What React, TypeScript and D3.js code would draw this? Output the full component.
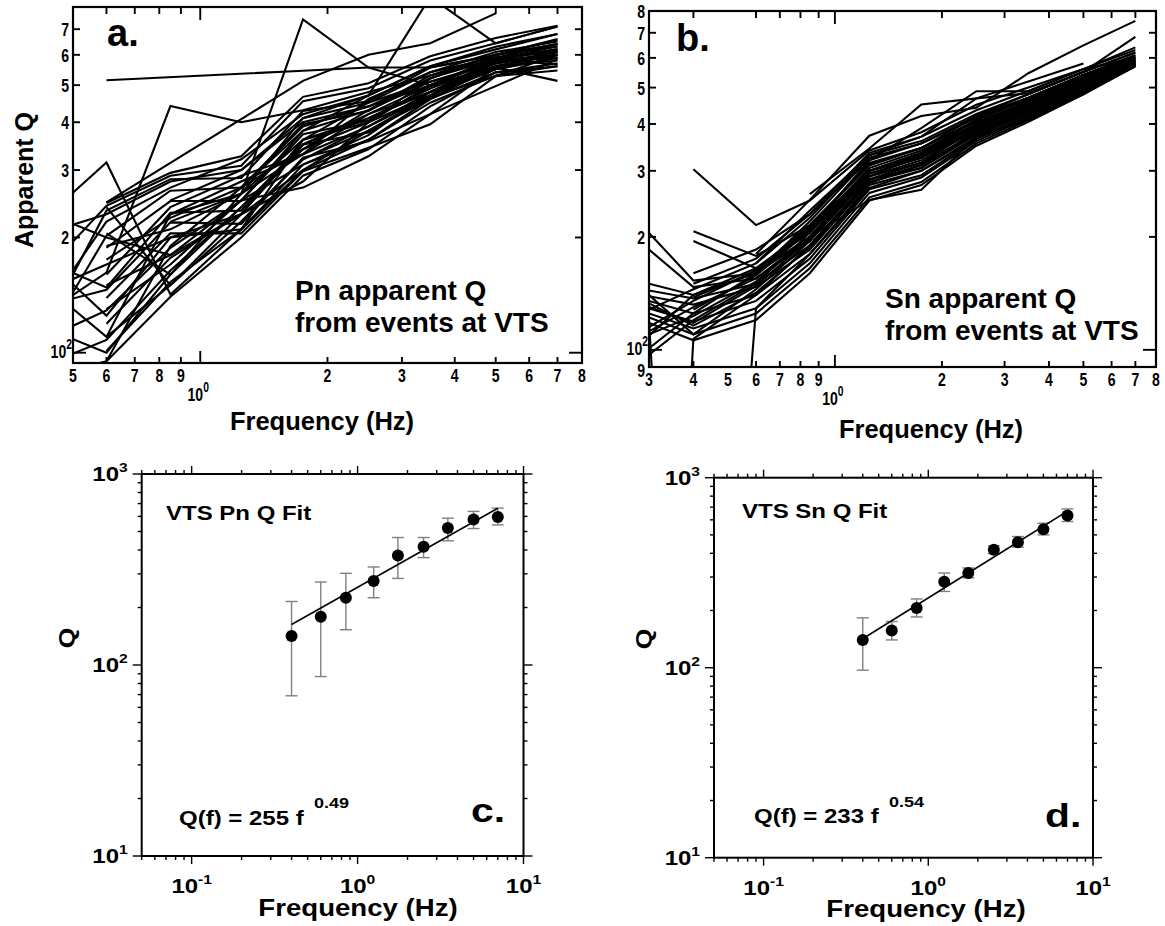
import React from 'react';
import * as d3 from 'd3';

// ---- data ----
// apparent Q curves (one row per event), frequencies shared per panel
const freqPn = [0.4, 0.6, 0.85, 1.25, 1.75, 2.5, 3.5, 5, 7];
const pnLines: (number | null)[][] = [
  [null, 515, null, null, 545, 556, 556, 600, 640],
  [null, null, 220, 260, 742, 556, 500, 580, 620],
  [null, null, null, 270, 380, 470, 850, 643, 711],
  [null, 247, null, null, 513, 600, 643, 770, null],
  [210, 314, 142, 210, 300, 380, 470, 560, 600],
  [120, 162, 441, 400, 430, 480, 530, 584, 566],
  [null, 246, 295, 326, 466, 506, 595, 664, 715],
  [150, 242, 290, 308, 454, 491, 580, 643, 711],
  [100, 235, 284, 286, 428, 454, 556, 598, 657],
  [95, 202, 265, 270, 395, 428, 522, 584, 632],
  [null, 188, 249, 249, 372, 404, 497, 556, 612],
  [180, 148, 232, 235, 350, 376, 465, 528, 600],
  [130, 146, 219, 217, 323, 357, 420, 497, 584],
  [null, 139, 205, 205, 298, 343, 395, 528, 546],
  [105, 129, 188, 250, 270, 326, 420, 556, 513],
  [null, 119, 177, 230, 350, 420, 480, 580, 600],
  [90, 108, 164, 240, 340, 400, 500, 590, 620],
  [null, 101, 153, 210, 310, 360, 460, 560, 580],
  [85, 95, 140, 200, 290, 340, 440, 540, 560],
  [null, 190, 210, 260, 360, 410, 480, 570, 610],
  [null, null, 230, 280, 330, 390, 470, 550, 590],
  [null, null, 250, 300, 400, 440, 520, 600, 630],
  [140, 170, 200, 230, 360, 450, 540, 610, 650],
  [null, 130, 170, 250, 380, 430, 510, 575, 590],
  [115, 220, 270, 320, 420, 470, 560, 620, 680],
  [null, 160, 240, 290, 330, 460, 540, 590, 610],
  [null, 110, 150, 220, 320, 380, 460, 540, 570],
  [200, 230, 280, 300, 410, 450, 510, 570, 600],
  [null, 150, 180, 230, 300, 360, 450, 530, 560],
  [null, null, null, 220, 320, 390, 480, 560, 600],
  [120, 100, 160, 240, 350, 410, 490, 570, 610],
  [null, 175, 225, 270, 390, 440, 500, 580, 620],
  [160, 110, 230, 260, 330, 420, 500, 560, 600],
  [null, 240, 150, 230, 280, 400, 470, 590, 640],
  [190, 125, 200, 210, 360, 400, 520, 600, 660],
  [null, 95, 190, 270, 340, 430, 530, 600, 640],
  [240, 200, 180, 250, 310, 370, 480, 550, 590],
  [null, 205, 160, 260, 410, 470, 560, 630, 680],
];

const freqSn = [0.3, 0.4, 0.6, 0.85, 1.25, 1.75, 2.5, 3.5, 5, 7];
const snLines: (number | null)[][] = [
  [null, 303, 215, 250, 340, 380, 450, 500, 560, 600],
  [null, null, 180, 251, 372, 420, 442, 546, 648, 753],
  [null, 207, 178, 215, 310, 345, 420, 480, 550, 620],
  [null, 195, 165, 205, 300, 335, 410, 470, 540, 610],
  [205, 153, 160, 200, 295, 325, 400, 460, 530, 600],
  [185, 147, 155, 195, 290, 315, 390, 450, 520, 595],
  [144, 137, 150, 190, 285, 305, 385, 440, 510, 585],
  [139, 132, 147, 185, 280, 305, 375, 430, 500, 580],
  [135, 125, 140, 180, 275, 300, 370, 425, 495, 575],
  [129, 119, 135, 175, 268, 292, 365, 420, 490, 580],
  [125, 114, 129, 170, 262, 288, 360, 415, 485, 575],
  [122, 110, 125, 165, 255, 280, 355, 410, 485, 570],
  [118, 106, 120, 160, 250, 275, 350, 405, 480, 570],
  [112, 130, 155, 200, 300, 330, 395, 450, 520, 590],
  [109, 140, 165, 210, 315, 345, 405, 460, 540, 600],
  [101, 125, 160, 220, 325, 355, 415, 470, 540, 610],
  [97, 120, 150, 205, 300, 335, 400, 455, 530, 590],
  [128, 145, 170, 225, 330, 360, 425, 480, 550, 620],
  [115, 135, 163, 215, 312, 345, 410, 465, 535, 600],
  [null, 150, 175, 230, 335, 370, 435, 490, 560, 630],
  [140, 110, 145, 195, 290, 320, 385, 440, 510, 580],
  [120, 1, 129, 180, 270, 300, 365, 420, 490, 575],
  [1, 107, 140, 190, 283, 310, 375, 430, 500, 580],
  [null, null, null, 190, 285, 315, 375, 435, 505, 585],
  [null, null, 170, 235, 330, 370, 468, 519, 580, null],
  [null, null, 160, 210, 320, 390, 489, 489, 560, 640],
  [null, null, null, 260, 344, 451, 468, 483, 551, 683],
  [null, null, null, 200, 251, 267, 370, 410, 480, 575],
  [150, 140, 160, 200, 300, 325, 385, 430, 500, 585],
  [null, 160, 185, 230, 320, 355, 420, 470, 540, 606],
  [130, 118, 148, 198, 290, 330, 395, 450, 515, 590],
  [null, 128, 158, 208, 305, 340, 400, 455, 525, 595],
  [110, 123, 152, 200, 295, 325, 390, 445, 510, 585],
  [133, 116, 142, 188, 278, 312, 380, 438, 505, 580],
  [null, 138, 162, 212, 300, 332, 398, 452, 520, 592],
];

// Q fits
const fitFreq = [0.4, 0.6, 0.85, 1.25, 1.75, 2.5, 3.5, 5, 7];
const pnQ = [142, 179, 225, 275, 374, 416, 522, 577, 596];
const pnLo = [69, 87, 153, 225, 284, 365, 447, 518, 541];
const pnHi = [215, 272, 302, 326, 465, 465, 587, 637, 663];
const snQ = [140, 157, 206, 283, 315, 418, 458, 536, 632];
const snLo = [97, 140, 185, 252, 297, 398, 431, 500, 588];
const snHi = [183, 175, 230, 315, 335, 438, 490, 576, 685];
const pnFit: [number, number][] = [[0.4, 163], [7, 662]];
const snFit: [number, number][] = [[0.4, 142], [7, 667]];

// tick values
const pnXLabels: [number, string][] = [[0.5, '5'], [0.6, '6'], [0.7, '7'], [0.8, '8'], [0.9, '9'], [2, '2'], [3, '3'], [4, '4'], [5, '5'], [6, '6'], [7, '7'], [8, '8']];
const snXLabels: [number, string][] = [[0.3, '3'], [0.4, '4'], [0.5, '5'], [0.6, '6'], [0.7, '7'], [0.8, '8'], [0.9, '9'], [2, '2'], [3, '3'], [4, '4'], [5, '5'], [6, '6'], [7, '7'], [8, '8']];
const pnYLabels: [number, string][] = [[200, '2'], [300, '3'], [400, '4'], [500, '5'], [600, '6'], [700, '7']];
const snYLabels: [number, string][] = [[90, '9'], [200, '2'], [300, '3'], [400, '4'], [500, '5'], [600, '6'], [700, '7'], [800, '8']];
const appXMinor = [0.4, 0.6, 0.7, 0.8, 0.9, 2, 3, 4, 5, 6, 7];
const appYMinor = [200, 300, 400, 500, 600, 700];
const fitXMinor = [0.05, 0.06, 0.07, 0.08, 0.09, 0.2, 0.3, 0.4, 0.5, 0.6, 0.7, 0.8, 0.9, 2, 3, 4, 5, 6, 7, 8, 9];
const fitXMajor: [number, string][] = [[0.1, '-1'], [1, '0'], [10, '1']];
const fitYMinor = [20, 30, 40, 50, 60, 70, 80, 90, 200, 300, 400, 500, 600, 700, 800, 900];
const fitYMajor: [number, string][] = [[10, '1'], [100, '2'], [1000, '3']];

const FONT = "'Liberation Sans', Arial, Helvetica, sans-serif";

function ApparentPanel(p: any) {
  const x = d3.scaleLog().domain(p.xDomain).range([p.x0, p.x1]);
  const y = d3.scaleLog().domain(p.yDomain).range([p.y1, p.y0]);
  const line = d3.line<[number, number]>().x(d => x(d[0])).y(d => y(d[1]));
  const xt = appXMinor.filter(v => v > p.xDomain[0]);
  const digit = (tx: number, ty: number, s: string, anchor: string, sup?: string) => (
    <text transform={`translate(${tx},${ty}) scale(0.74,1)`} textAnchor={anchor}
      fontFamily={FONT} fontWeight="bold" fontSize={19}>
      {s}{sup && <tspan dy={-9} fontSize={14}>{sup}</tspan>}
    </text>
  );
  // bottom-most label sits right at the frame corner: nudge it down a little
  const yLabY = (v: number) => y(v) + (v < 100 ? 10 : 7);
  return (
    <g>
      <defs>
        <clipPath id={p.id}>
          <rect x={p.x0} y={p.y0} width={p.x1 - p.x0} height={p.y1 - p.y0} />
        </clipPath>
      </defs>
      <g clipPath={`url(#${p.id})`}>
        {p.lines.map((vals: (number | null)[], i: number) => {
          const pts = vals.map((v, j) => [p.freqs[j], v] as [number, number]).filter(d => d[1] != null);
          return <path key={i} d={line(pts) || ''} fill="none" stroke="#000" strokeWidth={2.1} />;
        })}
      </g>
      <rect x={p.x0} y={p.y0} width={p.x1 - p.x0} height={p.y1 - p.y0} fill="none" stroke="#000" strokeWidth={2.2} />
      <g stroke="#000" strokeWidth={1.9}>
        {xt.map(v => (
          <g key={v}>
            <line x1={x(v)} x2={x(v)} y1={p.y0} y2={p.y0 + 7} />
            <line x1={x(v)} x2={x(v)} y1={p.y1} y2={p.y1 - 6} />
          </g>
        ))}
        <line x1={x(1)} x2={x(1)} y1={p.y0} y2={p.y0 + 13} />
        <line x1={x(1)} x2={x(1)} y1={p.y1} y2={p.y1 - 12} />
        {appYMinor.map(v => (
          <g key={v}>
            <line x1={p.x0} x2={p.x0 + 7} y1={y(v)} y2={y(v)} />
            <line x1={p.x1} x2={p.x1 - 7} y1={y(v)} y2={y(v)} />
          </g>
        ))}
        <line x1={p.x0} x2={p.x0 + 13} y1={y(100)} y2={y(100)} />
        <line x1={p.x1} x2={p.x1 - 13} y1={y(100)} y2={y(100)} />
      </g>
      {p.xLabels.map(([v, s]: [number, string]) => <g key={'x' + v}>{digit(x(v), p.y1 + 19, s, 'middle')}</g>)}
      {digit(x(1) - 2, p.y1 + 38, '10', 'middle', '0')}
      {p.yLabels.map(([v, s]: [number, string]) => <g key={'y' + v}>{digit(p.x0 - 4, yLabY(v), s, 'end')}</g>)}
      {digit(p.x0 - 1, y(100) + 5.5, '10', 'end', '2')}
      <text x={p.letterX} y={p.letterY} fontFamily={FONT} fontWeight="bold" fontSize={38}>{p.letter}</text>
      <text fontFamily={FONT} fontWeight="bold" fontSize={28}>
        <tspan x={p.noteX} y={p.noteY}>{p.note1}</tspan>
        <tspan x={p.noteX} y={p.noteY + 32}>{p.note2}</tspan>
      </text>
      <text x={p.xTitleX} y={p.xTitleY} textAnchor="middle" fontFamily={FONT} fontWeight="bold" fontSize={25.5}>Frequency (Hz)</text>
    </g>
  );
}

function FitPanel(p: any) {
  const x = d3.scaleLog().domain([0.05, 10]).range([p.x0, p.x1]);
  const y = d3.scaleLog().domain([10, 1000]).range([p.y1, p.y0]);
  const line = d3.line<[number, number]>().x(d => x(d[0])).y(d => y(d[1]));
  const sx = 1.2;
  const wide = (tx: number, ty: number, size: number, anchor: string, body: React.ReactNode, rot = 0) => (
    <text transform={`translate(${tx},${ty}) rotate(${rot}) scale(${sx},1)`} textAnchor={anchor}
      fontFamily={FONT} fontWeight="bold" fontSize={size}>{body}</text>
  );
  return (
    <g>
      <rect x={p.x0} y={p.y0} width={p.x1 - p.x0} height={p.y1 - p.y0} fill="none" stroke="#000" strokeWidth={2} />
      <g stroke="#000" strokeWidth={1.4}>
        {fitXMinor.map(v => (
          <g key={v}>
            <line x1={x(v)} x2={x(v)} y1={p.y0} y2={p.y0 - 4} />
            <line x1={x(v)} x2={x(v)} y1={p.y1} y2={p.y1 + 4} />
          </g>
        ))}
        {fitXMajor.map(([v]) => (
          <g key={v}>
            <line x1={x(v)} x2={x(v)} y1={p.y0} y2={p.y0 - 8} />
            <line x1={x(v)} x2={x(v)} y1={p.y1} y2={p.y1 + 8} />
          </g>
        ))}
        {fitYMinor.map(v => (
          <g key={v}>
            <line x1={p.x0} x2={p.x0 - 4} y1={y(v)} y2={y(v)} />
            <line x1={p.x1} x2={p.x1 + 4} y1={y(v)} y2={y(v)} />
          </g>
        ))}
        {fitYMajor.map(([v]) => (
          <g key={v}>
            <line x1={p.x0} x2={p.x0 - 9} y1={y(v)} y2={y(v)} />
            <line x1={p.x1} x2={p.x1 + 9} y1={y(v)} y2={y(v)} />
          </g>
        ))}
      </g>
      {fitXMajor.map(([v, e]) => (
        <g key={'lx' + v}>{wide(x(v), p.y1 + 37, 20, 'middle', <>10<tspan dy={-9} fontSize={13}>{e}</tspan></>)}</g>
      ))}
      {fitYMajor.map(([v, e]) => (
        <g key={'ly' + v}>{wide(p.x0 - 14, y(v) + 7, 20, 'end', <>10<tspan dy={-9} fontSize={13}>{e}</tspan></>)}</g>
      ))}
      <g stroke="#808080" strokeWidth={1.4}>
        {fitFreq.map((f, i) => (
          <g key={f}>
            <line x1={x(f)} x2={x(f)} y1={y(p.lo[i])} y2={y(p.hi[i])} />
            <line x1={x(f) - 6} x2={x(f) + 6} y1={y(p.lo[i])} y2={y(p.lo[i])} />
            <line x1={x(f) - 6} x2={x(f) + 6} y1={y(p.hi[i])} y2={y(p.hi[i])} />
          </g>
        ))}
      </g>
      <path d={line(p.fit) || ''} fill="none" stroke="#000" strokeWidth={1.6} />
      {fitFreq.map((f, i) => <circle key={f} cx={x(f)} cy={y(p.Q[i])} r={6} fill="#000" />)}
      {wide(p.titleX, p.titleY, 20, 'start', p.title)}
      {wide(p.formX, p.formY, 20, 'start', p.formula)}
      {wide(p.expX, p.expY, 15, 'start', p.exp)}
      {wide(p.letterX, p.letterY, 34, 'start', p.letter)}
      {wide(p.qX, p.qY, 22, 'middle', 'Q', -90)}
      {wide(p.fX, p.fY, 23, 'middle', 'Frequency (Hz)')}
    </g>
  );
}

export default function App() {
  return (
    <svg width={1165} height={926} style={{ position: 'absolute', left: 0, top: 0, background: '#fff' }}>
      <rect width={1165} height={926} fill="#fff" />
      <ApparentPanel id="clipA" x0={73} x1={582} y0={7} y1={363} xDomain={[0.5, 8]} yDomain={[94, 800]}
        freqs={freqPn} lines={pnLines} xLabels={pnXLabels} yLabels={pnYLabels}
        letter="a." letterX={107} letterY={46} note1="Pn apparent Q" note2="from events at VTS" noteX={295} noteY={300}
        xTitleX={322} xTitleY={430} />
      <text transform="translate(33,180) rotate(-90)" textAnchor="middle" fontFamily={FONT} fontWeight="bold" fontSize={25}>Apparent Q</text>
      <ApparentPanel id="clipB" x0={649} x1={1156} y0={11} y1={367} xDomain={[0.3, 8]} yDomain={[90, 800]}
        freqs={freqSn} lines={snLines} xLabels={snXLabels} yLabels={snYLabels}
        letter="b." letterX={676} letterY={51} note1="Sn apparent Q" note2="from events at VTS" noteX={885} noteY={308}
        xTitleX={931} xTitleY={438} />
      <FitPanel x0={141.7} x1={523.5} y0={474} y1={856} Q={pnQ} lo={pnLo} hi={pnHi} fit={pnFit}
        title="VTS Pn Q Fit" titleX={166} titleY={520} formula="Q(f) = 255 f" formX={179} formY={825}
        exp="0.49" expX={314} expY={808} letter="c." letterX={471} letterY={822}
        qX={74} qY={638} fX={358} fY={916} />
      <FitPanel x0={714} x1={1093} y0={477.7} y1={857.7} Q={snQ} lo={snLo} hi={snHi} fit={snFit}
        title="VTS Sn Q Fit" titleX={742} titleY={518} formula="Q(f) = 233 f" formX={754} formY={823}
        exp="0.54" expX={889} expY={807} letter="d." letterX={1045} letterY={827}
        qX={651} qY={639} fX={926} fY={917} />
    </svg>
  );
}
